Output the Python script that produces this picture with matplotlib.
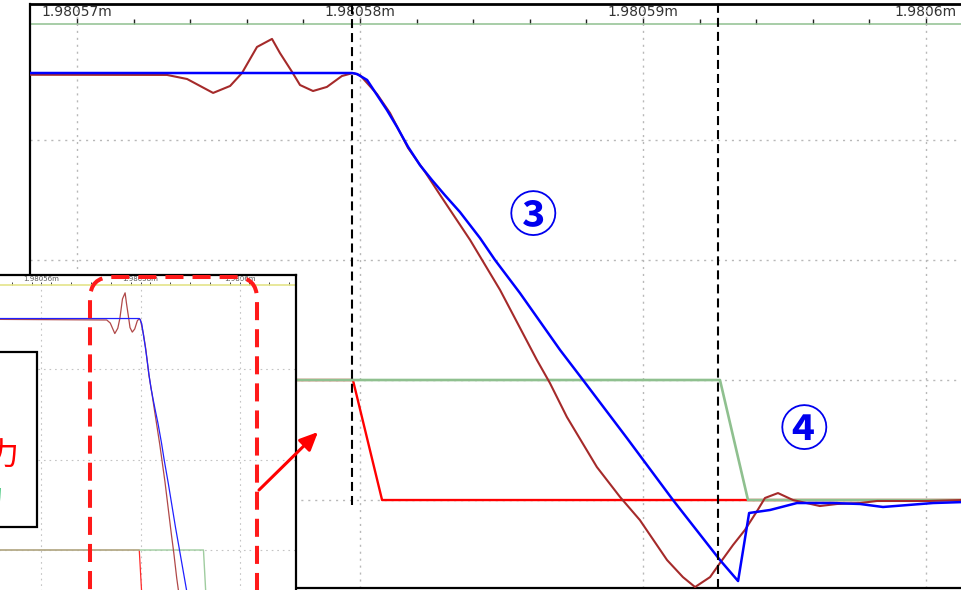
import matplotlib
matplotlib.use("Agg")
import matplotlib.pyplot as plt
from matplotlib.patches import FancyBboxPatch, Rectangle, FancyArrowPatch
from matplotlib.ticker import FuncFormatter, MultipleLocator

plt.rcParams['lines.scale_dashes'] = False
plt.rcParams['font.family'] = ['DejaVu Sans', 'Noto Sans CJK JP']

W, H, DPI = 961, 590, 100

# time axis: nanoseconds after 1.98057 ms
T_REF_MS = 1.98057

blue_ns = [-23.0, 9.72, 9.89, 10.25, 10.60, 10.95, 11.31, 11.70, 12.12, 12.54,
           13.00, 13.53, 14.24, 14.77, 15.65, 17.07, 17.88, 19.43, 21.06, 22.72,
           23.36, 23.75, 24.49, 25.44, 26.71, 27.67, 28.48, 30.25, 31.30]
blue_v = [3.558, 3.558, 3.55, 3.50, 3.375, 3.25, 3.108, 2.942, 2.79, 2.667,
          2.54, 2.40, 2.183, 2.0, 1.725, 1.25, 1.0, 0.517, 0.0, -0.5,
          -0.675, -0.108, -0.083, -0.025, -0.025, -0.033, -0.058, -0.025, -0.017]

brown_ns = [-23.0, 3.18, 3.89, 4.81, 5.41, 5.83, 6.36, 6.89, 7.17, 7.60,
            7.88, 8.34, 8.83, 9.36, 9.75, 10.0, 10.60, 11.06, 11.70, 12.30,
            12.83, 13.89, 14.95, 16.25, 16.71, 17.31, 18.37, 19.19, 19.89, 20.85,
            21.41, 21.84, 22.37, 22.72, 23.18, 23.60, 24.03, 24.31, 24.77, 25.30,
            26.25, 26.86, 27.67, 28.27, 30.04, 31.30]
brown_v = [3.55, 3.542, 3.508, 3.392, 3.45, 3.558, 3.775, 3.842, 3.725, 3.567,
           3.458, 3.408, 3.442, 3.533, 3.558, 3.54, 3.383, 3.225, 2.933, 2.733,
           2.542, 2.167, 1.75, 1.167, 0.975, 0.692, 0.275, 0.025, -0.167, -0.5,
           -0.642, -0.725, -0.642, -0.525, -0.375, -0.25, -0.092, 0.017, 0.058, 0.0,
           -0.05, -0.033, -0.025, -0.008, -0.008, 0.0]

red_ns = [-23.0, 9.75, 10.78, 31.30]
red_v = [1.0, 1.0, 0.0, 0.0]

green_ns = [-23.0, 22.72, 23.71, 31.30]
green_v = [1.0, 1.0, 0.0, 0.0]

cursor_ns = [9.72, 22.65]

main_ticks_ns = [0, 10, 20, 30]
inset_ticks_ns = [-10, 10, 30]
grid_levels = [0, 1, 2, 3]

legend_labels = ["入力", "出力"]
callouts = ["③", "④"]
callout_pos = [(16.11, 2.358), (25.69, 0.575)]


def time_label(ns, pos=None):
    return f"{T_REF_MS + ns * 1e-6:.6g}m"


def px(v):
    return v * 72.0 / DPI


fig = plt.figure(figsize=(W / DPI, H / DPI), dpi=DPI)
fig.patch.set_facecolor('white')
inch = fig.dpi_scale_trans

# ---------------- main scope view ----------------
ax = fig.add_axes([30 / W, 2 / H, (W - 30) / W, 584 / H])
ax.set_xticks(main_ticks_ns)
ax.set_yticks(grid_levels)
ax.set_xlim(-1.661, 31.237)
ax.set_ylim(-0.733, 4.133)
ax.tick_params(length=0, labelbottom=False, labelleft=False)
ax.grid(True, color='#b8b8b8', lw=1.0, ls=(0, (1.5, 3.5)))
ax.spines['right'].set_visible(False)
ax.spines['top'].set_linewidth(2.0)
ax.spines['left'].set_linewidth(1.6)
ax.spines['bottom'].set_linewidth(1.6)

ax.plot(red_ns, red_v, color='#ff0000', lw=1.7, zorder=3)
ax.plot(green_ns, green_v, color='#8fc08f', lw=1.9, zorder=4)
ax.plot(brown_ns, brown_v, color='#a52a2a', lw=1.5, zorder=5)
ax.plot(blue_ns, blue_v, color='#0000ff', lw=1.8, zorder=6)

ax.axvline(cursor_ns[0], ymin=0.142, ymax=1.008, clip_on=False, color='black',
           lw=1.5, ls=(0, (6.5, 3.6)), zorder=8)
ax.axvline(cursor_ns[1], ymin=0.0, ymax=1.008, clip_on=False, color='black',
           lw=1.5, ls=(0, (6.5, 3.6)), zorder=8)

sec = ax.secondary_xaxis((588 - 24) / 584)
sec.set_ticks(main_ticks_ns)
sec.xaxis.set_major_formatter(FuncFormatter(time_label))
sec.xaxis.set_minor_locator(MultipleLocator(2))
sec.tick_params(which='major', direction='out', length=px(6), width=1.0,
                color='#222222', labelsize=10, labelcolor='#333333', pad=-0.8)
sec.tick_params(which='minor', direction='out', length=px(5), width=1.0,
                color='#222222')
for s in sec.spines.values():
    s.set_color('#8fc08f')
    s.set_linewidth(1.1)

for label, (tx, ty) in zip(callouts, callout_pos):
    ax.text(tx, ty, label, color='#0000ee', fontsize=35, fontweight='bold',
            ha='center', va='center', family=['Noto Sans CJK JP'], zorder=9)

# ---------------- overview inset ----------------
ins = fig.add_axes([-20 / W, -10 / H, 316 / W, 325 / H])
ins.set_xticks(inset_ticks_ns)
ins.set_yticks([1, 2, 3])
ins.set_xlim(-22.42, 41.41)
ins.set_ylim(0.4475, 4.039)
ins.tick_params(length=0, labelbottom=False, labelleft=False)
ins.grid(True, color='#c4c4c4', lw=0.8, ls=(0, (1.2, 2.8)))
ins.spines['left'].set_visible(False)
ins.spines['bottom'].set_visible(False)
ins.spines['top'].set_linewidth(1.6)
ins.spines['right'].set_linewidth(1.6)

ins.plot(red_ns, red_v, color='#ff2a2a', lw=0.9, zorder=3)
ins.plot(green_ns, green_v, color='#9fcc9f', lw=1.0, zorder=4)
ins.plot(brown_ns, brown_v, color='#b04848', lw=0.9, zorder=5)
ins.plot(blue_ns, blue_v, color='#2020ff', lw=0.9, zorder=6)

isec = ins.secondary_xaxis((600 - 285) / 325)
isec.set_ticks(inset_ticks_ns)
isec.xaxis.set_major_formatter(FuncFormatter(time_label))
isec.xaxis.set_minor_locator(MultipleLocator(4))
isec.tick_params(which='major', direction='out', length=px(3), width=0.7,
                 color='#444444', labelsize=5, labelcolor='#555555', pad=0)
isec.tick_params(which='minor', direction='out', length=px(3), width=0.7,
                 color='#444444')
for s in isec.spines.values():
    s.set_color('#e4e48a')
    s.set_linewidth(1.2)

# legend frame of the overview
fig.add_artist(Rectangle((-0.5, 0.63), 0.87, 1.75, transform=inch,
                         facecolor='white', edgecolor='black', lw=1.6,
                         zorder=5))
fig.text(0.20, 1.33, legend_labels[0], transform=inch, ha='right', va='center',
         color='#ff0000', fontsize=23, family=['Noto Sans CJK JP'], zorder=6)
fig.text(0.045, 0.91, legend_labels[1], transform=inch, ha='right',
         va='center', color='#55cc88', fontsize=23,
         family=['Noto Sans CJK JP'], zorder=6)

# zoom window marker and pointer
fig.add_artist(FancyBboxPatch((0.90, -0.4), 1.67, 3.53, transform=inch,
                              boxstyle="round,pad=0,rounding_size=0.22",
                              fill=False, edgecolor='#ff1a1a', lw=2.9,
                              ls=(0, (13, 6.5)), zorder=7))
fig.add_artist(FancyArrowPatch((2.59, 1.00), (3.18, 1.58), transform=inch,
                               arrowstyle="-|>,head_length=1.1,head_width=0.5",
                               mutation_scale=10, color='#ff0000', lw=2.2,
                               shrinkA=0, shrinkB=0, zorder=7))

fig.savefig("out.png", dpi=DPI, facecolor='white')
